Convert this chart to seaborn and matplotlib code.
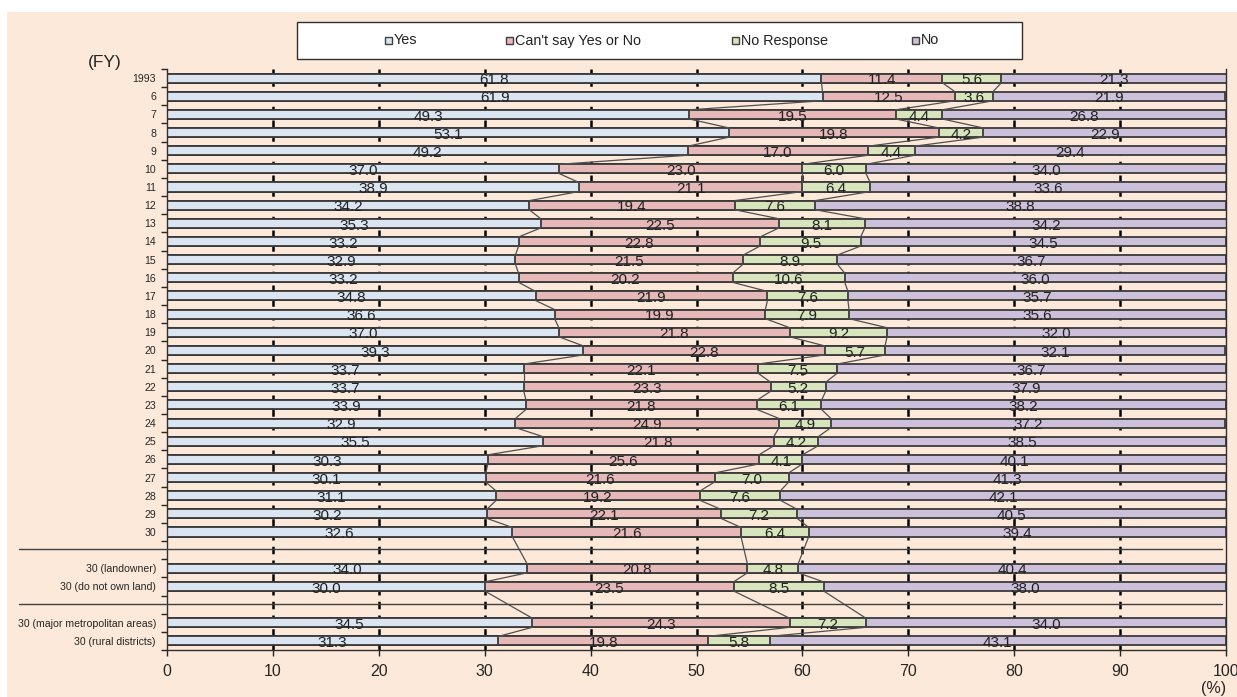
import numpy as np
import pandas as pd
import matplotlib.pyplot as plt
import seaborn as sns
from matplotlib.patches import Rectangle
from matplotlib.lines import Line2D

# Survey answers by fiscal year (%)
labels = ["1993", "6", "7", "8", "9", "10", "11", "12", "13", "14", "15", "16", "17",
          "18", "19", "20", "21", "22", "23", "24", "25", "26", "27", "28", "29", "30",
          "30 (landowner)", "30 (do not own land)",
          "30 (major metropolitan areas)", "30 (rural districts)"]
yes = [61.8, 61.9, 49.3, 53.1, 49.2, 37.0, 38.9, 34.2, 35.3, 33.2, 32.9, 33.2, 34.8,
       36.6, 37.0, 39.3, 33.7, 33.7, 33.9, 32.9, 35.5, 30.3, 30.1, 31.1, 30.2, 32.6,
       34.0, 30.0, 34.5, 31.3]
cant_say = [11.4, 12.5, 19.5, 19.8, 17.0, 23.0, 21.1, 19.4, 22.5, 22.8, 21.5, 20.2, 21.9,
            19.9, 21.8, 22.8, 22.1, 23.3, 21.8, 24.9, 21.8, 25.6, 21.6, 19.2, 22.1, 21.6,
            20.8, 23.5, 24.3, 19.8]
no_resp = [5.6, 3.6, 4.4, 4.2, 4.4, 6.0, 6.4, 7.6, 8.1, 9.5, 8.9, 10.6, 7.6,
           7.9, 9.2, 5.7, 7.5, 5.2, 6.1, 4.9, 4.2, 4.1, 7.0, 7.6, 7.2, 6.4,
           4.8, 8.5, 7.2, 5.8]
no = [21.3, 21.9, 26.8, 22.9, 29.4, 34.0, 33.6, 38.8, 34.2, 34.5, 36.7, 36.0, 35.7,
      35.6, 32.0, 32.1, 36.7, 37.9, 38.2, 37.2, 38.5, 40.1, 41.3, 42.1, 40.5, 39.4,
      40.4, 38.0, 34.0, 43.1]

series_names = ["Yes", "Can't say Yes or No", "No Response", "No"]
colors = ["#dbe5f1", "#e6b9b8", "#d7e4bc", "#ccc0da"]
bg = "#fde9d9"

# row slots: two empty slots separate the groups
ypos = list(range(26)) + [27, 28, 30, 31]

df = pd.DataFrame({"label": labels, "y": ypos, "yes": yes, "cant": cant_say,
                   "nr": no_resp, "no": no})
df["c1"] = df["yes"]
df["c2"] = df["c1"] + df["cant"]
df["c3"] = df["c2"] + df["nr"]
df["c4"] = df["c3"] + df["no"]

sns.set_style("ticks")
plt.rcParams["font.family"] = ["Liberation Sans", "DejaVu Sans"]

W, H = 1237, 697
fig = plt.figure(figsize=(W / 100, H / 100), dpi=100)
fig.patch.set_facecolor("white")
fig.patches.append(Rectangle((7 / W, 0), 1, 1 - 12 / H, transform=fig.transFigure,
                             facecolor=bg, edgecolor="none", zorder=-10))
ax = fig.add_axes([167 / W, 1 - 650 / H, 1059 / W, 581 / H])
ax.set_facecolor("none")

# gridlines under bars
for gx in range(10, 100, 10):
    ax.axvline(gx, color="black", lw=1.8, ls=(0, (3, 2.5)), zorder=0)

# stacked bars: draw cumulative totals from the back
for col, color in zip(["c4", "c3", "c2", "c1"], colors[::-1]):
    sns.barplot(data=df, x=col, y="y", orient="h", native_scale=True, width=0.5,
                color=color, edgecolor="#3a3a3a", linewidth=1.3, saturation=1,
                errorbar=None, ax=ax, zorder=2)

# series lines between consecutive bars
h = 0.25
for col in ["c1", "c2", "c3"]:
    for i in range(len(df) - 1):
        ax.plot([df[col][i], df[col][i + 1]], [df["y"][i] + h, df["y"][i + 1] - h],
                color="#505050", lw=0.9, zorder=3)

# value labels
starts = [np.zeros(len(df)), df["c1"], df["c2"], df["c3"]]
for vals, st in zip([yes, cant_say, no_resp, no], starts):
    for v, s, y in zip(vals, st, df["y"]):
        ax.text(s + v / 2, y + 0.12, f"{v:.1f}", ha="center", va="center",
                fontsize=11, color="#222222", zorder=4)

ax.set_xlim(0, 100)
ax.set_ylim(31.5, -0.5)
ax.set_xticks(range(0, 101, 10))
ax.set_xticklabels([str(v) for v in range(0, 101, 10)], fontsize=11.5)
ax.set_yticks(ypos)
ax.set_yticklabels(labels, fontsize=7.6)
ax.set_yticks(np.arange(-0.5, 32, 1), minor=True)
ax.tick_params(axis="y", which="major", length=0, pad=8)
ax.tick_params(axis="y", which="minor", length=4, width=1, direction="out")
ax.tick_params(axis="x", length=4, width=1, direction="out", pad=6)
ax.set_xlabel("")
ax.set_ylabel("")
ax.spines["top"].set_visible(False)
for s in ["left", "bottom", "right"]:
    ax.spines[s].set_color("#303030")
    ax.spines[s].set_linewidth(1)

# group separators extending into the label area
for sy in [26, 29]:
    ax.add_line(Line2D([-14.0, 99.6], [sy - 0.05, sy - 0.05], color="#404040", lw=1,
                       clip_on=False, zorder=3))

# legend: white frame with Excel-like entries
fig.patches.append(Rectangle((297 / W, 1 - 59 / H), 725 / W, 37 / H,
                             transform=fig.transFigure, facecolor="white",
                             edgecolor="#303030", lw=1, zorder=1))
legend_x = [385, 506, 732, 912]
for name, color, lx in zip(series_names, colors, legend_x):
    fig.patches.append(Rectangle((lx / W, 1 - 44 / H), 7 / W, 7 / H,
                                 transform=fig.transFigure, facecolor=color,
                                 edgecolor="#404040", lw=1, zorder=2))
    fig.text((lx + 9) / W, 1 - 40.5 / H, name, ha="left", va="center",
             fontsize=10.4, color="#222222", zorder=3)

fig.text(105 / W, 1 - 62 / H, "(FY)", ha="center", va="center", fontsize=12.5)
fig.text(1214 / W, 1 - 689 / H, "(%)", ha="center", va="center", fontsize=11.5)

fig.savefig("out.png", dpi=100, facecolor=fig.get_facecolor())
